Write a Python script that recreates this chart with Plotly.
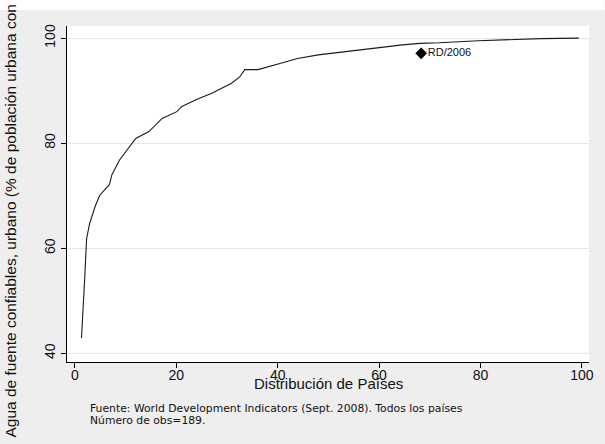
import plotly.graph_objects as go

# cumulative distribution of countries (x, %) vs urban access to safe water (y, %)
dist_paises = [1.3, 1.6, 1.95, 2.3, 2.9, 4.0, 4.9, 6.8, 7.3, 8.8, 10.5, 12.0,
               14.6, 17.2, 20.1, 21.1, 24.0, 27.0, 30.9, 32.5, 33.5, 36.1,
               40.6, 43.9, 48.0, 53.0, 58.0, 64.6, 68.0, 71.8, 79.6, 88.0,
               92.0, 99.4]
agua_urbano = [42.9, 49.8, 54.6, 61.8, 64.7, 68.0, 70.1, 72.1, 74.0, 76.8,
               79.0, 80.9, 82.2, 84.7, 86.0, 87.0, 88.3, 89.5, 91.4, 92.6,
               94.0, 94.0, 95.2, 96.1, 96.8, 97.4, 98.0, 98.7, 99.0, 99.1,
               99.5, 99.8, 99.9, 100.0]

rd_x = [68.3]
rd_y = [97.1]
rd_label = ["RD/2006"]

x_ticks = [0, 20, 40, 60, 80, 100]
y_ticks = [40, 60, 80, 100]

fig = go.Figure()

fig.add_trace(go.Scatter(
    x=dist_paises,
    y=agua_urbano,
    mode='lines',
    line=dict(color='#1a1a1a', width=1.1),
    showlegend=False))

fig.add_trace(go.Scatter(
    x=rd_x,
    y=rd_y,
    mode='markers+text',
    marker=dict(symbol='diamond', size=9, color='black'),
    text=rd_label,
    textposition='middle right',
    textfont=dict(family='Arial, Liberation Sans', size=11, color='#111'),
    showlegend=False))

font = dict(family='Arial, Liberation Sans', size=14, color='#111')

fig.update_layout(
    width=605,
    height=444,
    paper_bgcolor='#eeeeee',
    plot_bgcolor='white',
    margin=dict(l=67, r=11, t=26, b=82),
    font=font,
    xaxis=dict(
        range=[-1.56, 101.4],
        tickvals=x_ticks,
        ticks='outside',
        ticklen=5,
        tickcolor='black',
        ticklabelstandoff=-5,
        showgrid=False,
        zeroline=False,
        showline=True,
        linecolor='black',
        linewidth=1,
        tickfont=font),
    yaxis=dict(
        range=[38.35, 102.3],
        tickvals=y_ticks,
        tickangle=-90,
        ticks='outside',
        ticklen=5,
        tickcolor='black',
        showgrid=True,
        gridcolor='#e6e6e6',
        gridwidth=1,
        zeroline=False,
        showline=True,
        linecolor='black',
        linewidth=1,
        tickfont=font),
    shapes=[dict(
        type='rect', xref='paper', yref='paper',
        x0=-0.13, x1=1.03, y0=1.0476, y1=1.08,
        fillcolor='white', line=dict(width=0), layer='below')],
    annotations=[
        dict(text='Agua de fuente confiables, urbano (% de población urbana con acceso)',
             textangle=-90, xref='paper', yref='paper',
             x=-0.108, y=-0.232, xanchor='center', yanchor='bottom',
             showarrow=False, font=dict(family='Arial, Liberation Sans', size=15.5, color='#111')),
        dict(text='Distribución de Países',
             xref='paper', yref='paper', x=0.5, y=-0.033,
             xanchor='center', yanchor='top', showarrow=False,
             font=dict(family='Arial, Liberation Sans', size=15, color='#111')),
        dict(text='Fuente: World Development Indicators (Sept. 2008). Todos los países',
             xref='paper', yref='paper', x=0.04, y=-0.113,
             xanchor='left', yanchor='top', align='left', showarrow=False,
             font=dict(family='DejaVu Sans', size=10.8, color='#111')),
        dict(text='Número de obs=189.',
             xref='paper', yref='paper', x=0.04, y=-0.149,
             xanchor='left', yanchor='top', align='left', showarrow=False,
             font=dict(family='DejaVu Sans', size=10.8, color='#111'))])

fig.write_html("out.html", config=dict(displayModeBar=False),
               post_script="document.body.style.margin='0';")
